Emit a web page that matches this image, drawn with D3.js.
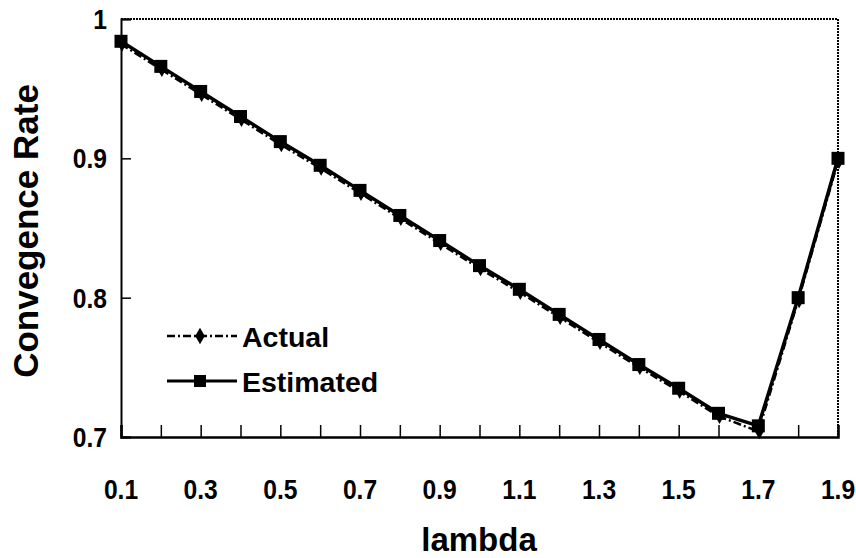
<!DOCTYPE html>
<html>
<head>
<meta charset="utf-8">
<script src="https://cdn.jsdelivr.net/npm/d3@7"></script>
<style>
  body { margin: 0; background: #fff; }
  text { font-family: "Liberation Sans", Arial, sans-serif; font-weight: bold; fill: #000; }
</style>
</head>
<body>
<div id="chart"></div>
<script>
const lambdas = [0.1, 0.2, 0.3, 0.4, 0.5, 0.6, 0.7, 0.8, 0.9, 1.0, 1.1, 1.2, 1.3, 1.4, 1.5, 1.6, 1.7, 1.8, 1.9];
const actual = [0.982, 0.964, 0.946, 0.928, 0.910, 0.893, 0.875, 0.857, 0.839, 0.821, 0.804, 0.786, 0.768, 0.750, 0.733, 0.715, 0.704, 0.798, 0.898];
const estimated = [0.984, 0.966, 0.948, 0.930, 0.912, 0.895, 0.877, 0.859, 0.841, 0.823, 0.806, 0.788, 0.770, 0.752, 0.735, 0.717, 0.708, 0.800, 0.900];
const xTicks = [0.1, 0.3, 0.5, 0.7, 0.9, 1.1, 1.3, 1.5, 1.7, 1.9];
const yTicks = [0.7, 0.8, 0.9, 1];

const WIDTH = 856;
const HEIGHT = 558;
const PL = 121, PR = 838, PT = 19, PB = 437;

const svg = d3.select("#chart")
    .append("svg")
        .attr("width", WIDTH)
        .attr("height", HEIGHT)

const x = d3.scaleLinear().domain([0.1, 1.9]).range([PL, PR])
const y = d3.scaleLinear().domain([0.7, 1]).range([PB, PT])

// frame: solid left/bottom, dotted top/right
svg.append("path")
    .attr("d", `M${PL},${PT}H${PR}V${PB}`)
    .attr("stroke", "#000").attr("stroke-width", 2).attr("stroke-dasharray", "2,1").attr("fill", "none")

const xAxis = svg.append("g")
    .attr("transform", `translate(0,${PB})`)
    .call(d3.axisBottom(x).tickValues(lambdas).tickSize(-12).tickFormat(""))
xAxis.select(".domain").attr("stroke-width", 2.5)
xAxis.selectAll(".tick line").attr("stroke-width", 1.5)

// tick labels are a bit condensed in the original
svg.selectAll(".xlab")
    .data(xTicks)
    .enter().append("text")
        .attr("transform", d => `translate(${x(d)},${PB + 62}) scale(0.88,1)`)
        .attr("text-anchor", "middle")
        .attr("font-size", 28)
        .text(d => d.toFixed(1))

const yAxis = svg.append("g")
    .attr("transform", `translate(${PL},0)`)
    .call(d3.axisLeft(y).tickValues(yTicks).tickSize(-10).tickFormat(""))
yAxis.select(".domain").attr("stroke-width", 2)
yAxis.selectAll(".tick line").attr("stroke-width", 1.5)

svg.selectAll(".ylab")
    .data(yTicks)
    .enter().append("text")
        .attr("transform", d => `translate(${PL - 14},${y(d) + 10}) scale(0.88,1)`)
        .attr("text-anchor", "end")
        .attr("font-size", 28)
        .text(d => d === 1 ? "1" : d.toFixed(1))

svg.append("text")
    .attr("transform", `translate(38,${(PT + PB) / 2 + 3}) rotate(-90)`)
    .attr("text-anchor", "middle")
    .attr("font-size", 35)
    .text("Convegence Rate")

svg.append("text")
    .attr("x", 479)
    .attr("y", 551)
    .attr("text-anchor", "middle")
    .attr("font-size", 33)
    .text("lambda")

const line = d3.line().x((d, i) => x(lambdas[i])).y(d => y(d))

// actual: dash-dot with diamonds
svg.append("path")
    .datum(actual)
    .attr("d", line)
    .attr("fill", "none").attr("stroke", "#000").attr("stroke-width", 2.5)
    .attr("stroke-dasharray", "8,3,2,3")
svg.selectAll(".diamond")
    .data(actual)
    .enter().append("path")
        .attr("d", d3.symbol().type(d3.symbolDiamond).size(70))
        .attr("transform", (d, i) => `translate(${x(lambdas[i]) + 1},${y(d)})`)
        .attr("fill", "#000")

// estimated: solid with squares
svg.append("path")
    .datum(estimated)
    .attr("d", line)
    .attr("fill", "none").attr("stroke", "#000").attr("stroke-width", 3.5)
svg.selectAll(".square")
    .data(estimated)
    .enter().append("rect")
        .attr("x", (d, i) => x(lambdas[i]) - 6.5)
        .attr("y", d => y(d) - 6.5)
        .attr("width", 13)
        .attr("height", 13)
        .attr("fill", "#000")

// legend
const legend = [
    { name: "Actual", dash: "8,3,2,3", y: 336, marker: "diamond" },
    { name: "Estimated", dash: null, y: 381, marker: "square" }
]
const lg = svg.selectAll(".legend")
    .data(legend)
    .enter().append("g")
lg.append("line")
    .attr("x1", 167).attr("x2", 237)
    .attr("y1", d => d.y).attr("y2", d => d.y)
    .attr("stroke", "#000").attr("stroke-width", d => d.dash ? 2.5 : 3)
    .attr("stroke-dasharray", d => d.dash)
lg.filter(d => d.marker === "diamond").append("path")
    .attr("d", d3.symbol().type(d3.symbolDiamond).size(80))
    .attr("transform", d => `translate(200,${d.y})`)
lg.filter(d => d.marker === "square").append("rect")
    .attr("x", 194).attr("y", d => d.y - 6)
    .attr("width", 12).attr("height", 12)
lg.append("text")
    .attr("x", 242)
    .attr("y", d => d.y + 11)
    .attr("font-size", 28.5)
    .text(d => d.name)
</script>
</body>
</html>
